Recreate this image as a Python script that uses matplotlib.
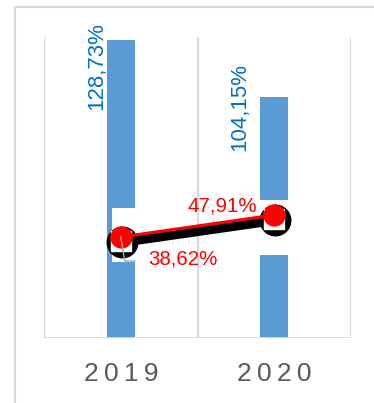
import matplotlib
matplotlib.use("Agg")
import matplotlib.pyplot as plt
from matplotlib import font_manager
from matplotlib.patches import Rectangle
from matplotlib.lines import Line2D
from matplotlib.transforms import offset_copy, IdentityTransform
import numpy as np

# 数据
years = ["2019", "2020"]
bar_vals = [128.73, 104.15]
line_vals = [38.62, 47.91]
bar_labels = ["128,73%", "104,15%"]
line_labels = ["38,62%", "47,91%"]

plt.rcParams['font.family'] = ['Liberation Sans', 'DejaVu Sans']

# 数据标签用窄体字，没有就退回普通字体
names = {f.name for f in font_manager.fontManager.ttflist}
if 'Liberation Sans Narrow' in names:
    lbl_font = ['Liberation Sans Narrow', 'DejaVu Sans']
    blue_fs, red_fs = 18.4, 16.8
else:
    lbl_font = ['Liberation Sans', 'DejaVu Sans']
    blue_fs, red_fs = 16, 14.8

fig = plt.figure(figsize=(3.74, 4.03), dpi=100)
ax = fig.add_axes([44 / 374, 65 / 403, 307 / 374, 301 / 403])
ax2 = ax.twinx()

x = np.arange(len(years))
grid_c = '#D9D9D9'

# 外框
fig.patches.append(Rectangle((15 / 374, -0.2), 1.2, (403 - 7) / 403 + 0.2,
                             transform=fig.transFigure, fill=False,
                             edgecolor=grid_c, linewidth=1.5))

# 柱状图
ax.bar(x, bar_vals, width=0.18, color='#5B9BD5', zorder=2)
ax.set_xlim(-0.5, 1.5)
ax.set_ylim(0, 130)
for xv in [-0.5, 0.5, 1.5]:
    ax.axvline(xv, color=grid_c, linewidth=1.5, zorder=1)
ax.axhline(0, color=grid_c, linewidth=2, zorder=3)

# 柱子的数据标签（竖排）
bar_lbl_off = [(-24, -26), (-35, -10)]
for i in range(len(x)):
    ax.annotate(bar_labels[i], (x[i], bar_vals[i]), xytext=bar_lbl_off[i],
                textcoords='offset pixels', rotation=90, ha='center', va='center',
                fontsize=blue_fs, color='#0070C0', family=lbl_font)

for s in ax.spines.values():
    s.set_visible(False)
for s in ax2.spines.values():
    s.set_visible(False)
ax.set_yticks([])
ax2.set_yticks([])
ax.set_xticks(x)
ax.set_xticklabels(["\u2009".join(y) for y in years], fontsize=19, color='#595959')
ax.tick_params(axis='x', length=0, pad=17)

# 折线（次坐标轴）
ax2.set_ylim(-4, 123)
gap_below = [10.6, 16.9]
gap_h = [22.8, 23.2]
gap_dx = [0.03, 0.0]
for i in range(len(x)):
    ax2.bar(x[i] + gap_dx[i], gap_h[i], bottom=line_vals[i] - gap_below[i],
            width=0.18, color='white', zorder=1)

shadow = offset_copy(ax2.transData, fig=fig, x=1, y=-5.5, units='dots')
ax2.plot(x, line_vals, color='black', linewidth=6.5, transform=shadow, zorder=2)
ax2.plot(x, line_vals, 'o', color='black', markersize=22, transform=shadow, zorder=3)
inner = offset_copy(ax2.transData, fig=fig, x=0, y=-4, units='dots')
ax2.plot(x, line_vals, 's', color='white', markersize=15, transform=inner, zorder=4)
ax2.plot(x, line_vals, color='#FF0000', linewidth=2.2, zorder=5)
ax2.plot(x, line_vals, 'o', color='#FF0000', markersize=15, zorder=6)

line_lbl_off = [(62, -22), (-52, 9)]
for i in range(len(x)):
    ax2.annotate(line_labels[i], (x[i], line_vals[i]), xytext=line_lbl_off[i],
                 textcoords='offset pixels', ha='center', va='center',
                 fontsize=red_fs, color='#FF0000', family=lbl_font, zorder=7)

# 2019 标签的引导线
px, py = ax2.transData.transform((x[0], line_vals[0]))
fig.add_artist(Line2D([px, px + 4, px + 14], [py, py - 24, py - 24],
                      transform=IdentityTransform(), color='#A6A6A6',
                      linewidth=1.0, zorder=10))

fig.savefig('out.png', dpi=100)
